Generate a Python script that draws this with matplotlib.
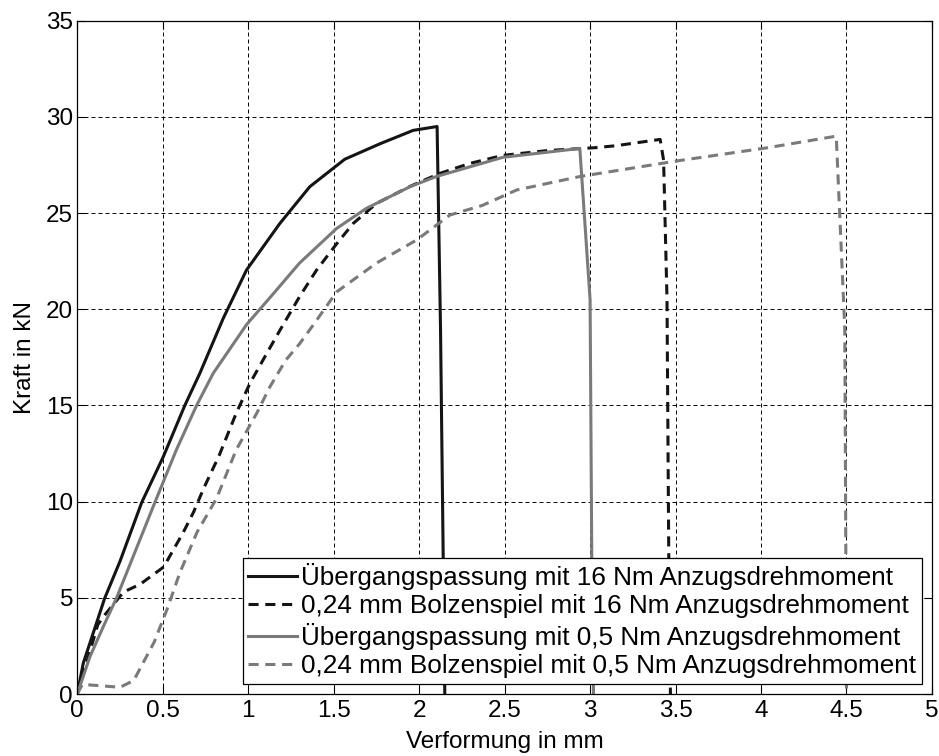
import matplotlib
matplotlib.use("Agg")
import matplotlib.pyplot as plt

plt.rcParams['font.family'] = ['Liberation Sans', 'DejaVu Sans']

# Übergangspassung 16 Nm
x_ue16 = [0, 0.035, 0.16, 0.25, 0.377, 0.503, 0.63, 0.717, 0.854, 0.99, 1.185, 1.36,
          1.565, 1.77, 1.965, 2.105, 2.125, 2.15]
y_ue16 = [0, 1.6, 4.97, 6.9, 9.96, 12.33, 15.02, 16.67, 19.53, 22.04, 24.46, 26.37,
          27.8, 28.6, 29.3, 29.5, 19.0, 0]
# 0,24 mm Bolzenspiel 16 Nm
x_bs16 = [0, 0.12, 0.16, 0.27, 0.367, 0.505, 0.62, 0.68, 0.74, 0.83, 0.93, 1.01, 1.108,
          1.185, 1.30, 1.40, 1.517, 1.614, 1.75, 1.95, 2.12, 2.296, 2.49, 2.75, 3.03,
          3.15, 3.41, 3.43, 3.45, 3.46, 3.47]
y_bs16 = [0, 3.6, 4.1, 5.3, 5.7, 6.6, 8.4, 9.45, 10.7, 12.4, 14.6, 16.15, 17.7,
          18.9, 20.65, 22.04, 23.4, 24.46, 25.5, 26.4, 27.06, 27.58, 28.0, 28.25, 28.4,
          28.5, 28.83, 27.75, 20.5, 7.5, 0]
# Übergangspassung 0,5 Nm
x_ue05 = [0, 0.074, 0.152, 0.23, 0.454, 0.58, 0.698, 0.795, 0.99, 1.146, 1.30, 1.517,
          1.69, 1.946, 2.10, 2.49, 2.94, 3.0, 3.01, 3.02]
y_ue05 = [0, 1.94, 3.5, 5.0, 9.96, 12.7, 15.0, 16.67, 19.2, 20.8, 22.4, 24.2,
          25.24, 26.37, 26.9, 27.9, 28.36, 20.5, 7.0, 0]
# 0,24 mm Bolzenspiel 0,5 Nm
x_bs05 = [0, 0.03, 0.25, 0.33, 0.45, 0.525, 0.6, 0.70, 0.815, 0.93, 1.05, 1.127, 1.22,
          1.30, 1.38, 1.517, 1.75, 1.985, 2.18, 2.37, 2.57, 2.94, 3.5, 4.04, 4.44,
          4.49, 4.5]
y_bs05 = [0, 0.5, 0.35, 0.7, 2.7, 4.4, 6.3, 8.4, 10.17, 12.7, 14.6, 15.97, 17.36,
          18.2, 19.18, 20.9, 22.4, 23.6, 24.9, 25.4, 26.2, 26.9, 27.7, 28.4, 29.0,
          19.0, 0]

labels = ["Übergangspassung mit 16 Nm Anzugsdrehmoment",
          "0,24 mm Bolzenspiel mit 16 Nm Anzugsdrehmoment",
          "Übergangspassung mit 0,5 Nm Anzugsdrehmoment",
          "0,24 mm Bolzenspiel mit 0,5 Nm Anzugsdrehmoment"]

blk = "#141414"; gry = "#7a7a7a"; lw = 2.2
fig = plt.figure(figsize=(9.39, 7.56), dpi=100)
ax = fig.add_axes([0.0823, 0.082, 0.9102, 0.8906])
ax.plot(x_ue16, y_ue16, color=blk, lw=lw, label=labels[0])
ax.plot(x_bs16, y_bs16, color=blk, lw=lw, dashes=(3.3, 2.2), label=labels[1])
ax.plot(x_ue05, y_ue05, color=gry, lw=lw, label=labels[2])
ax.plot(x_bs05, y_bs05, color=gry, lw=lw, dashes=(3.3, 2.2), label=labels[3])

ax.set_xlim(0, 5); ax.set_ylim(0, 35)
ax.set_xticks([0, 0.5, 1, 1.5, 2, 2.5, 3, 3.5, 4, 4.5, 5])
ax.set_xticklabels(["0", "0.5", "1", "1.5", "2", "2.5", "3", "3.5", "4", "4.5", "5"])
ax.set_yticks(range(0, 36, 5))
ax.grid(True, color="k", lw=0.7, dashes=(4.1, 3.1))
ax.tick_params(direction="in", top=True, right=True, length=6, width=0.8,
               labelsize=17.5)
ax.tick_params(axis="x", pad=4)
ax.tick_params(axis="y", pad=3)
for s in ax.spines.values(): s.set_linewidth(0.9)
ax.set_xlabel("Verformung in mm", fontsize=17.5, labelpad=7)
ax.set_ylabel("Kraft in kN", fontsize=17.5, labelpad=7)
leg = ax.legend(loc="lower right", fontsize=18.8, frameon=True, fancybox=False,
                edgecolor="k", framealpha=1, handlelength=1.9, handletextpad=0.15,
                labelspacing=0.17, borderpad=0.2, borderaxespad=0.4)
leg.get_frame().set_linewidth(0.9)
fig.savefig("out.png", dpi=100)
